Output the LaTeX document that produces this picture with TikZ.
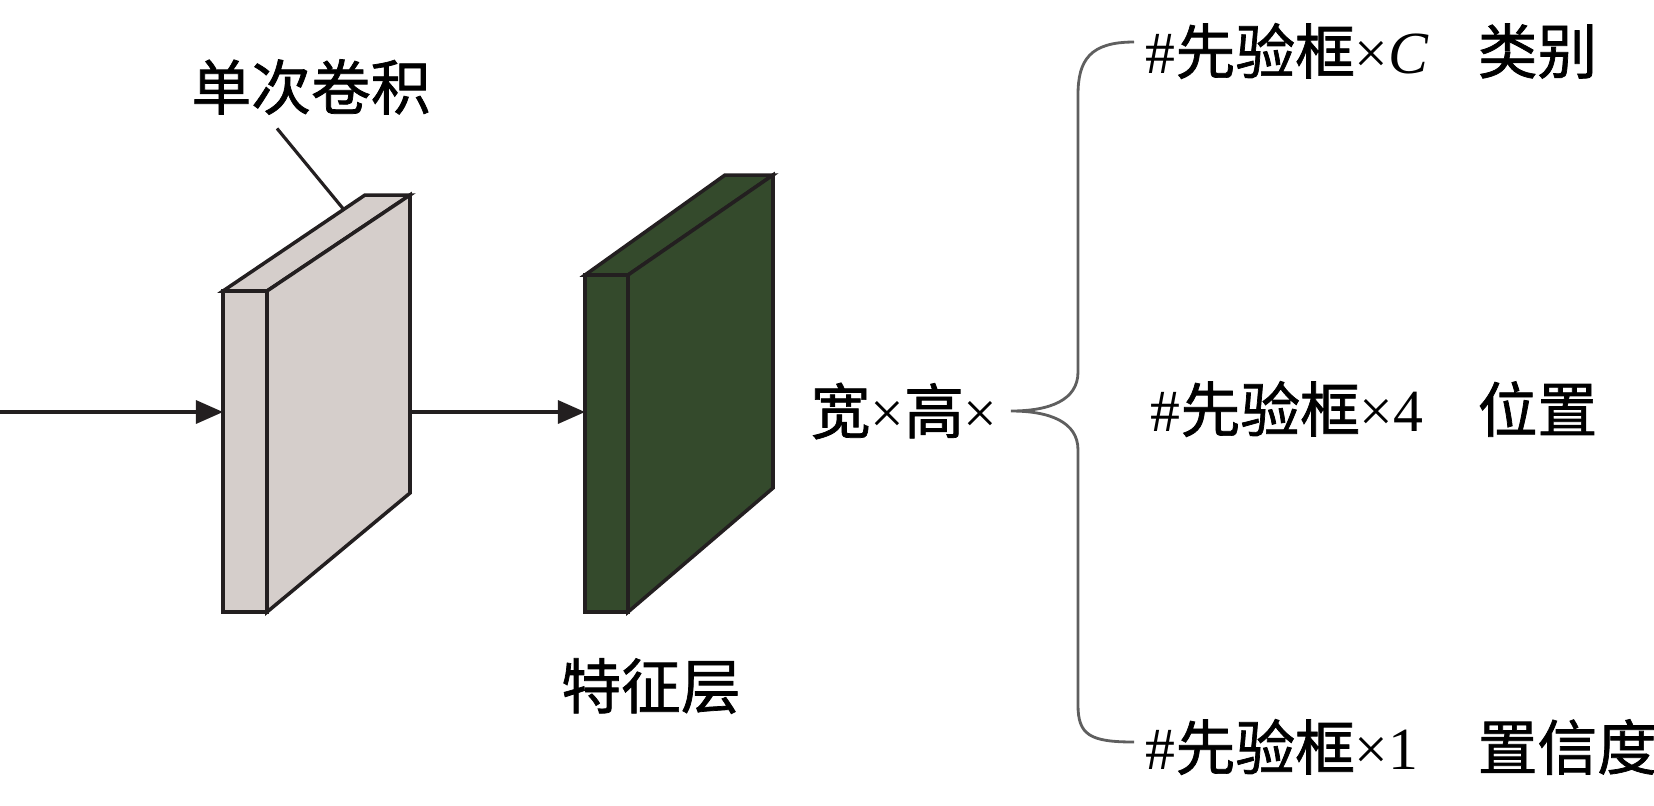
\documentclass[tikz,border=0pt]{standalone}
\usepackage{fontspec}
\setmainfont{Liberation Serif}
\newfontfamily\cjk{Noto Sans CJK SC}[FakeBold=1.2]
\usetikzlibrary{positioning, arrows.meta, calc}

\definecolor{convgray}{RGB}{213,206,203}
\definecolor{featgreen}{RGB}{52,74,44}
\definecolor{edgecol}{RGB}{35,31,32}
\definecolor{bracecol}{RGB}{95,95,95}

\tikzset{
	face/.style={draw=edgecol, line width=1pt, line join=miter},
	flow/.style={draw=edgecol, line width=0.9pt, -{Triangle[length=2.7mm,width=2.3mm]}},
	lbl/.style={font=\fontsize{17}{20}\selectfont, inner sep=0pt},
}

\begin{document}
\begin{tikzpicture}[x=0.01cm, y=-0.01cm]
		\useasboundingbox (0,0) rectangle (1654,805);
		
		%Convolution block
		\coordinate (gfl) at (223,291);
		\coordinate (gfr) at (267,291);
		\coordinate (gbl) at (365,195);
		\coordinate (gbr) at (410,195);
		\coordinate (gdr) at (410,493);
		\coordinate (gdl) at (267,612);
		\coordinate (gdf) at (223,612);
		\draw[face, fill=convgray] (gfl) -- (gbl) -- (gbr) -- (gfr) -- cycle;
		\draw[face, fill=convgray] (gfr) -- (gbr) -- (gdr) -- (gdl) -- cycle;
		\draw[face, fill=convgray] (gfl) rectangle (gdl);
		
		%Feature block
		\coordinate (kfl) at (585,275);
		\coordinate (kfr) at (628,275);
		\coordinate (kbl) at (725,175);
		\coordinate (kbr) at (773,175);
		\coordinate (kdr) at (773,488);
		\coordinate (kdl) at (628,612);
		\draw[face, fill=featgreen] (kfl) -- (kbl) -- (kbr) -- (kfr) -- cycle;
		\draw[face, fill=featgreen] (kfr) -- (kbr) -- (kdr) -- (kdl) -- cycle;
		\draw[face, fill=featgreen] (kfl) rectangle (kdl);
		
		%Arrows
		\coordinate (src) at (0,412);
		\draw[flow] (src) -- (gfl |- src);
		\draw[flow] (gbr |- src) -- (kfl |- src);
		
		%Labels
		\node[lbl] (convlbl) at (311,87) {\cjk 单次卷积};
		\draw[edgecol, line width=0.9pt] ($(convlbl.south)+(-34,13)$) -- ($(gfl)!0.85!(gbl)$);
		\node[lbl] (featlbl) at (651,686) {\cjk 特征层};
		\node[lbl, anchor=west] (size) at (810,411) {{\cjk 宽}×{\cjk 高}×};
		
		\node[lbl, anchor=west] (cls) at (1145,51) {\#{\cjk 先验框}×\textit{C}};
		\node[lbl, anchor=west] (loc) at (1150,409) {\#{\cjk 先验框}×4};
		\node[lbl, anchor=west] (conf) at (1145,747) {\#{\cjk 先验框}×1};
		\node[lbl, anchor=west] (clsname) at (1477,51) {\cjk 类别};
		\node[lbl, anchor=west] (locname) at (1477,409) {\cjk 位置};
		\node[lbl, anchor=west] (confname) at (1477,747) {\cjk 置信度};
		
		%Brace
		\coordinate (tip) at (1011,411);
		\draw[bracecol, line width=0.8pt] ($(cls.west)+(-11,-9)$) .. controls (1090,42) and (1078,60) .. (1078,95)
			-- (1078,372) .. controls (1078,400) and (1050,411) .. (tip)
			.. controls (1050,411) and (1078,422) .. (1078,450)
			-- (1078,705) .. controls (1078,735) and (1090,742) .. ($(conf.west)+(-11,-5)$);
		
\end{tikzpicture}
\end{document}
